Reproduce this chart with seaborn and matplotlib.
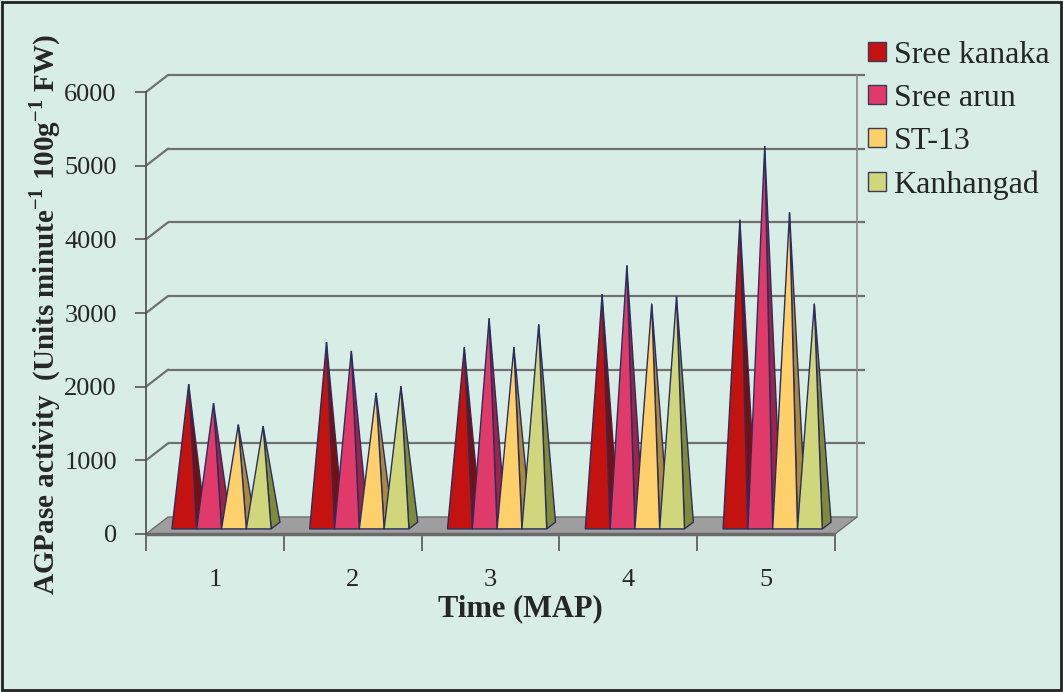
import numpy as np
import pandas as pd
import matplotlib
matplotlib.use("Agg")
import matplotlib.pyplot as plt
import seaborn as sns
from matplotlib.patches import Polygon, Patch, Rectangle

# ---- data ----
times = ["1", "2", "3", "4", "5"]
varieties = ["Sree kanaka", "Sree arun", "ST-13", "Kanhangad"]
sree_kanaka = [1920, 2490, 2420, 3140, 4150]
sree_arun = [1660, 2370, 2810, 3530, 5150]
st_13 = [1370, 1800, 2420, 3010, 4250]
kanhangad = [1350, 1890, 2730, 3110, 3010]
yticks = [0, 1000, 2000, 3000, 4000, 5000, 6000]

colors = ["#c3120f", "#e03a6b", "#fdd06c", "#cfd67c"]
side_colors = ["#7c0d0b", "#9c2349", "#a8893f", "#7f8b3a"]
edge = "#2b2d5c"
bg = "#d9ede7"

rows = []
for v, vals in zip(varieties, [sree_kanaka, sree_arun, st_13, kanhangad]):
    for t, val in zip(times, vals):
        rows.append({"Time": t, "Value": val, "Variety": v})
df = pd.DataFrame(rows)

sns.set_theme(style="white")
plt.rcParams["font.family"] = ["Liberation Serif", "DejaVu Serif"]
plt.rcParams["mathtext.fontset"] = "custom"
plt.rcParams["mathtext.rm"] = "Liberation Serif"
plt.rcParams["mathtext.bf"] = "Liberation Serif:bold"

W, H = 1063, 692
fig = plt.figure(figsize=(W / 100, H / 100), dpi=100)
fig.patch.set_facecolor(bg)

x_left_px, x_right_px = 146, 835
y0_px, ytop_px = 534, 92
ax = fig.add_axes([x_left_px / W, 1 - y0_px / H,
                   (x_right_px - x_left_px) / W, (y0_px - ytop_px) / H])
ax.set_facecolor("none")

sns.barplot(data=df, x="Time", y="Value", hue="Variety", hue_order=varieties,
            order=times, palette=colors, width=0.72, ax=ax, legend=False,
            errorbar=None)

ax.set_xlim(-0.5, 4.5)
ax.set_ylim(0, 6000)

# depth offsets (data units)
px_per_x = (x_right_px - x_left_px) / 5.0
px_per_y = (y0_px - ytop_px) / 6000.0
dx = 22 / px_per_x
dy = 17 / px_per_y

# back wall gridlines + left side diagonals
grid_c = "#707070"
for t in yticks[1:]:
    ax.plot([-0.5 + dx, 4.5 + dx + 0.06], [t + dy, t + dy], color=grid_c,
            lw=1.6, zorder=0.5, clip_on=False, solid_capstyle="butt")
    ax.plot([-0.5, -0.5 + dx], [t, t + dy], color=grid_c, lw=1.6,
            zorder=0.5, clip_on=False)
# right wall edge
ax.plot([4.5 + dx, 4.5 + dx], [dy, 6000 + dy], color="#888888", lw=1.2,
        zorder=0.5, clip_on=False)

# floor
floor = Polygon([(-0.5, 0), (4.5, 0), (4.5 + dx, dy), (-0.5 + dx, dy)],
                closed=True, facecolor="#9e9e9e", edgecolor="#6e6e6e",
                lw=1.0, zorder=1, clip_on=False)
ax.add_patch(floor)
ax.plot([-0.5, 4.5], [0, 0], color="#6a6a6a", lw=2.5, zorder=1.1,
        clip_on=False, solid_capstyle="butt")

# pyramids from seaborn bars
f0, f1 = 0.3, 0.7
for hi, cont in enumerate(ax.containers):
    for bar in cont:
        x0 = bar.get_x()
        w = bar.get_width()
        h = bar.get_height()
        bar.set_visible(False)
        xc = x0 + w / 2
        apex = (xc + 0.5 * dx, h + 0.5 * dy)
        fl = (x0 + f0 * dx, f0 * dy)
        fr = (x0 + w + f0 * dx, f0 * dy)
        br = (x0 + w + f1 * dx, f1 * dy)
        side = Polygon([fr, br, apex], closed=True, facecolor=side_colors[hi],
                       edgecolor=edge, lw=1.0, zorder=3 + hi * 0.1,
                       clip_on=False, joinstyle="miter")
        front = Polygon([fl, fr, apex], closed=True, facecolor=colors[hi],
                        edgecolor=edge, lw=1.0, zorder=3.05 + hi * 0.1,
                        clip_on=False, joinstyle="miter")
        ax.add_patch(side)
        ax.add_patch(front)

# axes styling
for s in ["top", "right", "bottom"]:
    ax.spines[s].set_visible(False)
ax.spines["left"].set_color("#555555")
ax.spines["left"].set_linewidth(1.3)
ax.set_yticks(yticks)
ax.set_yticklabels([str(t) for t in yticks], fontsize=19)
ax.tick_params(axis="y", length=8, width=1.2, color="#555555",
               direction="out", pad=13, left=True)
ax.set_xticks(range(5))
ax.set_xticklabels(times, fontsize=19)
ax.set_xticks(np.arange(-0.5, 5.0, 1.0), minor=True)
ax.tick_params(axis="x", which="major", length=0, pad=25)
ax.tick_params(axis="x", which="minor", length=12, width=1.2,
               color="#555555", direction="out", bottom=True)
ax.set_xlabel("")
ax.set_ylabel("")

fig.text(520 / W, 1 - 609 / H, "Time (MAP)", ha="center", va="center",
         fontsize=22, fontweight="bold")
fig.text(45 / W, 1 - 314 / H,
         "AGPase activity  (Units minute$^{\\mathbf{-1}}$ 100g$^{\\mathbf{-1}}$ FW)",
         rotation=90, ha="center", va="center", fontsize=21, fontweight="bold")

handles = [Patch(facecolor=c, edgecolor="#3a3a55", lw=1.0) for c in colors]
fig.legend(handles, varieties, loc="upper left",
           bbox_to_anchor=(868 / W, 1 - 41 / H), frameon=False,
           prop={"family": "Liberation Serif", "size": 23},
           handlelength=0.55, handleheight=0.55, handletextpad=0.25,
           labelspacing=0.44, borderaxespad=0, borderpad=0)

fig.add_artist(Rectangle((2 / W, 2 / H), 1 - 4 / W, 1 - 4 / H,
                         transform=fig.transFigure, fill=False,
                         edgecolor="#222222", lw=2))

fig.savefig("out.png", dpi=100, facecolor=bg)
